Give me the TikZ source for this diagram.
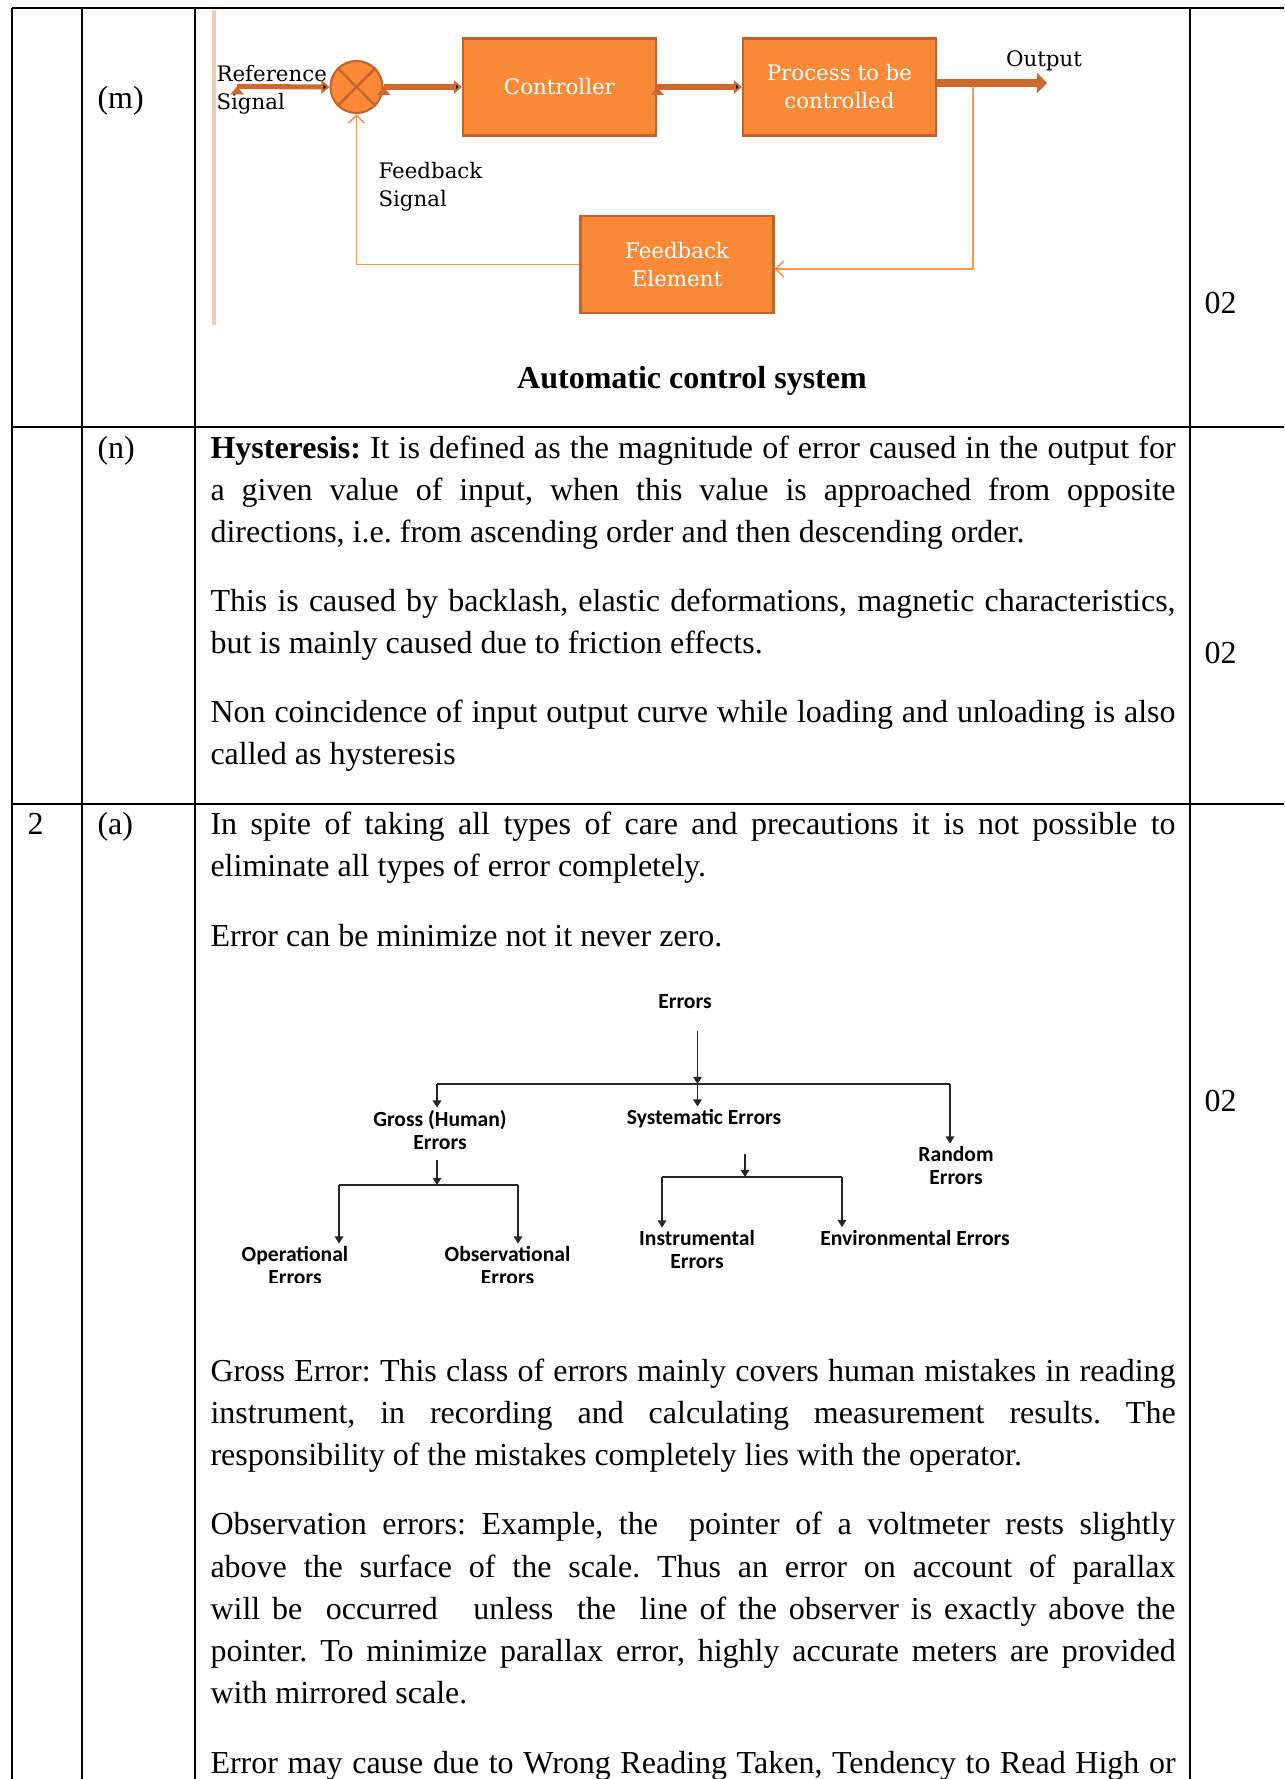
\documentclass[tikz,border=0pt]{standalone}
\usepackage{fontspec}
\setmainfont{Liberation Serif}
\newfontfamily\blockfont{DejaVu Serif}
\newfontfamily\treefont{Carlito}
\usepackage{xcolor}
\usepackage{tikz}
\usetikzlibrary {positioning}
\usetikzlibrary{arrows,arrows.meta}
\definecolor{blockfill}{HTML}{FA8A38}
\definecolor{blockline}{HTML}{C4622A}
\definecolor{flowline}{HTML}{CC6A2E}
\definecolor{fbline}{HTML}{F99550}
\definecolor{edgepink}{HTML}{F8C6B6}
\tikzset{edge/.style = {->,> = latex'}}
\tikzset{flow arrow/.style = {draw=flowline, line width=1.9pt, -{Triangle[length=3pt,width=5pt]}}}
\tikzset{fb arrow/.style = {draw=fbline, line width=0.6pt, -{Straight Barb[length=3pt,width=6pt]}}}
\tikzset{tree arrow/.style = {draw=black!85, line width=0.6pt, -{Triangle[length=2.7pt,width=3.2pt]}}}
\tikzset{tree bar/.style = {draw=black!85, line width=0.6pt}}
\tikzset{table rule/.style = {line width=0.9pt}}
\newcommand{\justline}[1]{\makebox[361.9pt][s]{#1}}
\frenchspacing

\begin{document}
\begin{tikzpicture}[auto,x=0.375pt,y=-0.375pt,
    block node/.style={rectangle,draw=blockline,line width=0.8pt,fill=blockfill,minimum width=72.4pt,minimum height=36.4pt,inner sep=0pt,align=center,text=white,font=\blockfont\fontsize{8}{10.5}\selectfont},
    sum node/.style={circle,draw=blockline,line width=0.8pt,fill=blockfill,minimum size=19.5pt,inner sep=0pt},
    label node/.style={inner sep=0pt,align=left,font=\blockfont\fontsize{8}{10.5}\selectfont},
    tree node/.style={inner sep=1pt,align=center,font=\treefont\bfseries\fontsize{8.1}{8.3}\selectfont},
    body line/.style={anchor=base west,inner sep=0pt,font=\fontsize{12}{14}\selectfont},
    cell tag/.style={anchor=base west,inner sep=0pt,font=\fontsize{12}{14}\selectfont}]
                \useasboundingbox (0,0) rectangle (1284,1779);

                % table
                \draw[table rule] (12,8) -- (1284,8);
                \draw[table rule] (12,427) -- (1284,427);
                \draw[table rule] (12,804) -- (1284,804);
                \draw[table rule] (12,8) -- (12,1779);
                \draw[table rule] (82,8) -- (82,1779);
                \draw[table rule] (195,8) -- (195,1779);
                \draw[table rule] (1190,8) -- (1190,1779);

                \node[cell tag] (tagm) at (97,109) {(m)};
                \node[cell tag] (tagn) at (97,458) {(n)};
                \node[cell tag] (tagtwo) at (27,834) {2};
                \node[cell tag] (taga) at (97,834) {(a)};
                \node[cell tag] (markm) at (1204,314) {02};
                \node[cell tag] (markn) at (1204,663) {02};
                \node[cell tag] (marka) at (1204,1111) {02};

                % control loop
                \draw[edgepink, line width=1.7pt] (214,10) -- (214,325);
                \node[sum node] (sum) at (356.5,87) {};
                \draw[blockline, line width=0.8pt] (sum.north west) -- (sum.south east) (sum.north east) -- (sum.south west);
                \node[block node, node distance=76.1pt] (ctrl) [right of=sum] {Controller};
                \node[block node, node distance=105pt] (proc) [right of=ctrl] {Process to be\\controlled};
                \node[block node] (fbel) at (677,264.5) {Feedback\\Element};
                \node[label node, anchor=west] (refsig) at (216,89.5) {Reference\\Signal};
                \node[label node] (outlbl) at (1044,61) {Output};
                \node[label node, anchor=west] (fbsig) at (378,186.5) {Feedback\\Signal};
                \node[inner sep=0pt, font=\bfseries\fontsize{12}{14}\selectfont] (title) at (692,381) {Automatic control system};

                \coordinate (refin) at (237,86.5);
                \coordinate (outend) at (1047,83);
                \coordinate (tap) at (973,87);
                \path[flow arrow] (refin) edge[] node {} (sum.west);
                \path[flow arrow] (sum.east) edge[] node {} (ctrl.west);
                \path[flow arrow] (ctrl.east) edge[] node {} (proc.west);
                \draw[flow arrow, line width=3pt, -{Triangle[length=3.8pt,width=7.5pt]}] (proc.east |- outend) -- (outend);
                \draw[fb arrow] (tap) |- ([yshift=-1.7pt]fbel.east);
                \draw[fb arrow] (fbel.west) -| (sum.south);

                % hysteresis
                \node[body line] (n1) at (210,458) {\justline{\textbf{Hysteresis:} It is defined as the magnitude of error caused in the output for}};
                \node[body line] (n2) at (210,500) {\justline{a given value of input, when this value is approached from opposite}};
                \node[body line] (n3) at (210,542) {directions, i.e. from ascending order and then descending order.};
                \node[body line] (n4) at (210,611) {\justline{This is caused by backlash, elastic deformations, magnetic characteristics,}};
                \node[body line] (n5) at (210,653) {but is mainly caused due to friction effects.};
                \node[body line] (n6) at (210,722) {\justline{Non coincidence of input output curve while loading and unloading is also}};
                \node[body line] (n7) at (210,764) {called as hysteresis};

                % errors
                \node[body line] (a1) at (210,834) {\justline{In spite of taking all types of care and precautions it is not possible to}};
                \node[body line] (a2) at (210,876) {eliminate all types of error completely.};
                \node[body line] (a3) at (210,946) {Error can be minimize not it never zero.};

                \begin{scope}
                \clip (195,960) rectangle (1190,1282);
                \node[tree node] (errs) at (685,1002) {Errors};
                \node[tree node] (gross) at (440,1130) {Gross (Human)\\Errors};
                \node[tree node] (syst) at (704,1119) {Systematic Errors};
                \node[tree node] (rand) at (956,1165.5) {Random\\Errors};
                \node[tree node] (oper) at (295,1265.5) {Operational\\Errors};
                \node[tree node] (obsv) at (507.5,1265.5) {Observational\\Errors};
                \node[tree node] (inst) at (697,1249.5) {Instrumental\\Errors};
                \node[tree node] (envr) at (915,1238) {Environmental Errors};

                \coordinate (etop) at (697.5,1031);
                \coordinate (ejoin) at (697.5,1084);
                \coordinate (eleft) at (437,1084);
                \coordinate (eright) at (950,1084);
                \coordinate (gtop) at (437,1160);
                \coordinate (gjoin) at (437,1185);
                \coordinate (gleft) at (339,1185);
                \coordinate (gright) at (518,1185);
                \coordinate (stop) at (745,1154);
                \coordinate (sjoin) at (745,1177);
                \coordinate (sleft) at (662,1177);
                \coordinate (sright) at (842,1177);

                \draw[tree arrow] (etop) -- (ejoin);
                \draw[tree bar] (eleft) -- (eright);
                \draw[tree arrow] (eleft) -- (eleft |- gross.north);
                \draw[tree arrow] (ejoin) -- (ejoin |- syst.north);
                \draw[tree arrow] (eright) -- (eright |- rand.north);
                \draw[tree arrow] (gtop) -- (gjoin);
                \draw[tree bar] (gleft) -- (gright);
                \draw[tree arrow] (gleft) -- (gleft |- oper.north);
                \draw[tree arrow] (gright) -- (gright |- obsv.north);
                \draw[tree arrow] (stop) -- (sjoin);
                \draw[tree bar] (sleft) -- (sright);
                \draw[tree arrow] (sleft) -- (sleft |- inst.north);
                \draw[tree arrow] (sright) -- (sright |- envr.north);
                \end{scope}

                \node[body line] (a4) at (210,1381) {\justline{Gross Error: This class of errors mainly covers human mistakes in reading}};
                \node[body line] (a5) at (210,1423) {\justline{instrument, in recording and calculating measurement results. The}};
                \node[body line] (a6) at (210,1465) {responsibility of the mistakes completely lies with the operator.};
                \node[body line] (a7) at (210,1534) {\justline{Observation errors: Example, the \ pointer of a voltmeter rests slightly}};
                \node[body line] (a8) at (210,1577) {\justline{above the surface of the scale. Thus an error on account of parallax}};
                \node[body line] (a9) at (210,1619) {\justline{will be \ occurred \ \ unless \ the \ line of the observer is exactly above the}};
                \node[body line] (a10) at (210,1661) {\justline{pointer. To minimize parallax error, highly accurate meters are provided}};
                \node[body line] (a11) at (210,1703) {with mirrored scale.};
                \node[body line] (a12) at (210,1773) {\justline{Error may cause due to Wrong Reading Taken, Tendency to Read High or}};
            \end{tikzpicture}
\end{document}
